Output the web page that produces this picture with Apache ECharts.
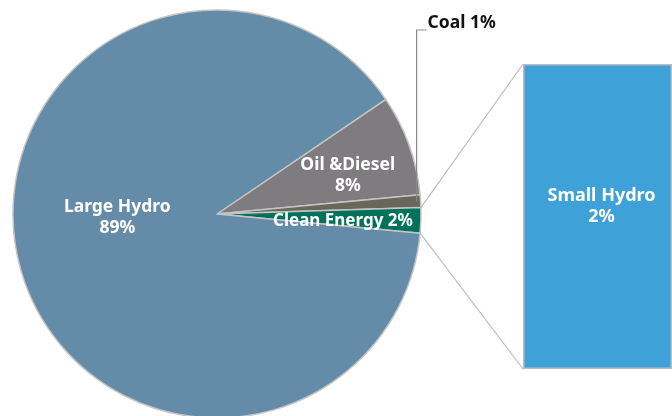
<!DOCTYPE html>
<html>
<head>
<meta charset="utf-8">
<script src="https://cdn.jsdelivr.net/npm/echarts@6/dist/echarts.min.js"></script>
<style>
html,body{margin:0;padding:0;background:#fff;}
#main{width:672px;height:416px;}
</style>
</head>
<body>
<div id="main"></div>
<script>
// ---- data ----
const categories = ['Oil &Diesel', 'Coal', 'Clean Energy', 'Large Hydro'];
const shares = [8, 1, 2, 89];
const sliceColors = ['#7f7c7f', '#676859', '#00725c', '#648ca8'];
const breakdownCategories = ['Small Hydro'];
const breakdownValues = [2];

// ---- layout ----
const PIE_CENTER = [217, 214];
const PIE_R = 204;
const START_ANGLE = 34.2;
const BAR_GRID = { left: 523, top: 64, width: 154, height: 305 };
const LINE_COLOR = '#bdbdbd';
const FONT = 'Noto Sans';

// label nudges (relative to default inside position)
const labelNudge = {
  'Oil &Diesel': [16, -1.5],
  'Clean Energy': [10.5, 2],
  'Large Hydro': [1, -11.5]
};

const chart = echarts.init(document.getElementById('main'), null, { renderer: 'canvas' });

const total = shares.reduce((a, b) => a + b, 0);
const bounds = [];
let a = START_ANGLE;
shares.forEach((v, i) => {
  const a0 = a;
  a -= v / total * 360;
  bounds.push([a0, a]);
});
const idxClean = categories.indexOf('Clean Energy');
const idxCoal = categories.indexOf('Coal');

function ptOnPie(angleDeg, r) {
  const t = angleDeg * Math.PI / 180;
  return [PIE_CENTER[0] + r * Math.cos(t), PIE_CENTER[1] - r * Math.sin(t)];
}

const coalMid = (bounds[idxCoal][0] + bounds[idxCoal][1]) / 2;
const coalStart = ptOnPie(coalMid, PIE_R - 4);
const COAL_TOP_Y = 30;
const coalLeader = [coalStart, [coalStart[0], COAL_TOP_Y], [coalStart[0] + 10, COAL_TOP_Y]];

const cleanTop = ptOnPie(bounds[idxClean][0], PIE_R);
const cleanBot = ptOnPie(bounds[idxClean][1], PIE_R);

const option = {
  animation: false,
  backgroundColor: '#ffffff',
  grid: Object.assign({ containLabel: false }, BAR_GRID),
  xAxis: { type: 'category', data: ['x'], show: false },
  yAxis: { type: 'value', min: 0, max: breakdownValues.reduce((a, b) => a + b, 0), show: false },
  series: [
    {
      type: 'pie',
      center: PIE_CENTER,
      radius: [0, PIE_R],
      startAngle: START_ANGLE,
      clockwise: true,
      avoidLabelOverlap: false,
      silent: true,
      itemStyle: { borderColor: '#c4c4c4', borderWidth: 1.5 },
      label: {
        show: true,
        position: 'inside',
        color: '#ffffff',
        fontFamily: FONT,
        fontWeight: 'bold',
        fontSize: 17.5,
        lineHeight: 21,
        overflow: 'none',
        formatter: function (p) {
          if (p.name === 'Clean Energy' || p.name === 'Coal') return p.name + ' ' + p.value + '%';
          return p.name + '\n' + p.value + '%';
        }
      },
      labelLine: { show: false },
      labelLayout: function (p) {
        const name = categories[p.dataIndex];
        if (name === 'Coal') {
          return { x: coalLeader[2][0] + 1, y: COAL_TOP_Y - 7, align: 'left', verticalAlign: 'middle' };
        }
        const n = labelNudge[name] || [0, 0];
        return { dx: n[0], dy: n[1] };
      },
      data: categories.map((c, i) => {
        const item = { name: c, value: shares[i], itemStyle: { color: sliceColors[i] } };
        if (c === 'Coal') item.label = { color: '#111111', fontSize: 17.5, overflow: 'none' };
        if (c === 'Clean Energy') item.label = { fontSize: 17, overflow: 'none' };
        return item;
      })
    },
    {
      type: 'bar',
      barWidth: '100%',
      silent: true,
      itemStyle: { color: '#3ea1d8', borderColor: '#bdbdbd', borderWidth: 1.5 },
      label: {
        show: true,
        position: 'inside',
        offset: [4, -10],
        color: '#ffffff',
        fontFamily: FONT,
        fontWeight: 'bold',
        fontSize: 18,
        lineHeight: 21,
        formatter: function (p) { return breakdownCategories[p.dataIndex] + '\n' + p.value + '%'; }
      },
      data: breakdownValues
    }
  ]
};
chart.setOption(option);

const barTopLeft = chart.convertToPixel({ gridIndex: 0 }, [0, breakdownValues[0]]);
const barBotLeft = chart.convertToPixel({ gridIndex: 0 }, [0, 0]);
const barLeftX = BAR_GRID.left;
chart.setOption({
  graphic: [
    { type: 'line', silent: true, z: 0, shape: { x1: cleanTop[0], y1: cleanTop[1], x2: barLeftX, y2: barTopLeft[1] }, style: { stroke: LINE_COLOR, lineWidth: 1.2 } },
    { type: 'line', silent: true, z: 0, shape: { x1: cleanBot[0], y1: cleanBot[1], x2: barLeftX, y2: barBotLeft[1] }, style: { stroke: LINE_COLOR, lineWidth: 1.2 } },
    { type: 'polyline', silent: true, z: 100, shape: { points: coalLeader }, style: { stroke: '#8a8a8a', lineWidth: 1.2, fill: null } }
  ]
});
</script>
</body>
</html>
